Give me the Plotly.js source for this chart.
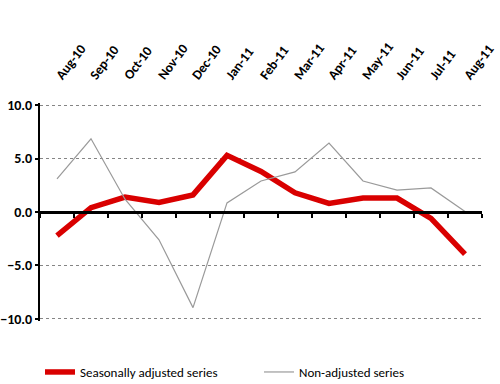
<!DOCTYPE html>
<html>
<head>
<meta charset="utf-8">
<script src="https://cdn.plot.ly/plotly-3.0.1.min.js"></script>
<style>html,body{margin:0;padding:0;background:#fff;}#chart{width:500px;height:384px;}</style>
</head>
<body>
<div id="chart"></div>
<script>
var months = ["Aug-10","Sep-10","Oct-10","Nov-10","Dec-10","Jan-11","Feb-11","Mar-11","Apr-11","May-11","Jun-11","Jul-11","Aug-11"];
var seasonallyAdjusted = [-2.2, 0.4, 1.4, 0.9, 1.6, 5.3, 3.8, 1.8, 0.8, 1.3, 1.3, -0.6, -3.95];
var nonAdjusted = [3.1, 6.85, 1.2, -2.6, -8.95, 0.85, 2.9, 3.75, 6.45, 2.9, 2.05, 2.25, 0.05];
var seriesNames = ["Seasonally adjusted series", "Non-adjusted series"];

var FONT = "Carlito, 'Liberation Sans Narrow', 'DejaVu Sans Condensed', Lato, sans-serif";

var traces = [
  {x: months, y: seasonallyAdjusted, name: seriesNames[0], type: "scatter", mode: "lines",
   line: {color: "#d90000", width: 5.5}, xaxis: "x", yaxis: "y"},
  {x: months, y: nonAdjusted, name: seriesNames[1], type: "scatter", mode: "lines",
   line: {color: "#9a9a9a", width: 1.2}, xaxis: "x", yaxis: "y"}
];

var layout = {
  width: 500, height: 384,
  margin: {l: 40, r: 18, t: 103, b: 63, autoexpand: false},
  paper_bgcolor: "#fff", plot_bgcolor: "#fff",
  showlegend: true,
  font: {family: FONT, color: "#000"},
  xaxis: {
    type: "category", side: "top", range: [-0.5, 12.5],
    tickangle: -53, showgrid: false, zeroline: false, showline: false, ticks: "",
    ticklabelstandoff: 16,
    tickfont: {family: FONT, size: 13.5, weight: "bold", color: "#000"}
  },
  xaxis2: {
    overlaying: "x", anchor: "free", position: 0.5, type: "linear",
    range: [-0.5, 12.5], tick0: -0.5, dtick: 1,
    showticklabels: false, showgrid: false, zeroline: false,
    showline: true, linecolor: "#000", linewidth: 2.5,
    ticks: "outside", ticklen: 4, tickwidth: 2, tickcolor: "#000"
  },
  yaxis: {
    range: [-10.2, 10.2], tickvals: [-10, -5, 0, 5, 10], tickformat: ".1f",
    showline: true, linecolor: "#000", linewidth: 2,
    ticks: "outside", ticklen: 3, tickwidth: 2, tickcolor: "#000",
    showgrid: true, gridcolor: "#858585", griddash: "3px,3px", gridwidth: 1,
    zeroline: false,
    tickfont: {family: FONT, size: 14, weight: "bold", color: "#000"}
  },
  legend: {
    orientation: "h", x: 0.0, xanchor: "left", y: -0.234, yanchor: "middle",
    entrywidth: 174, entrywidthmode: "pixels",
    font: {family: FONT, size: 13, color: "#000"}
  }
};

Plotly.newPlot("chart", traces.concat([{x: [0], y: [0], xaxis: "x2", yaxis: "y", mode: "none", showlegend: false, hoverinfo: "skip", type: "scatter"}]), layout, {staticPlot: true});
</script>
</body>
</html>
